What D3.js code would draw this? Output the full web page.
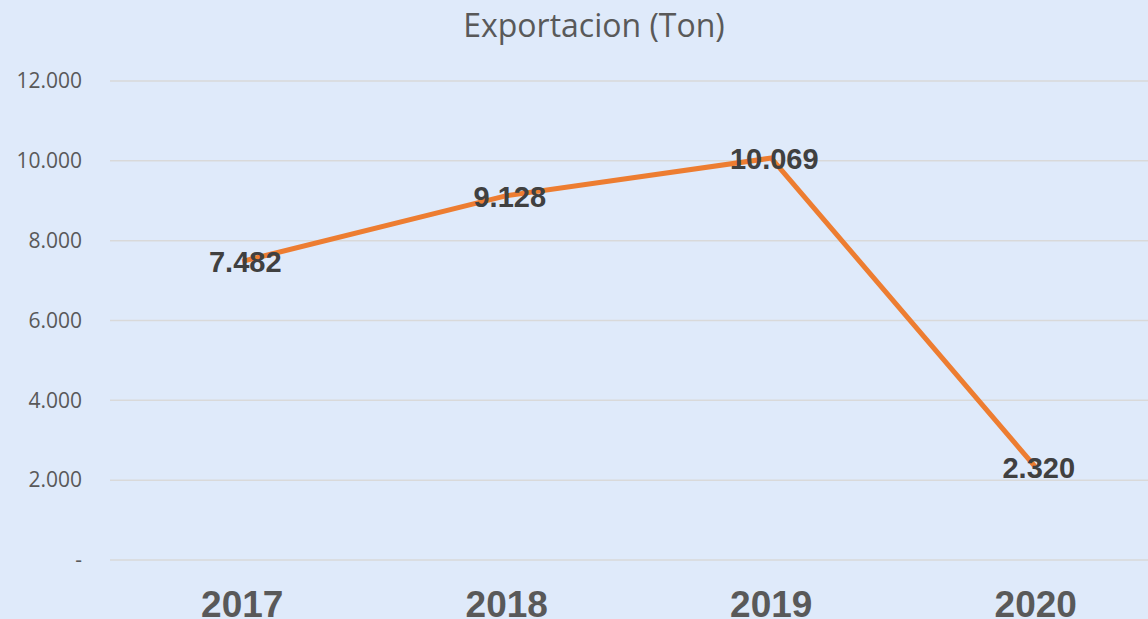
<!DOCTYPE html>
<html>
<head>
<meta charset="utf-8">
<script src="https://cdn.jsdelivr.net/npm/d3@7"></script>
<style>
    html, body { margin: 0; padding: 0; background: #dfeafa; }
    svg { display: block; }
</style>
</head>
<body>
<div id="chart"></div>
<script>
const years = ["2017", "2018", "2019", "2020"];
const exportTon = [7482, 9128, 10069, 2320];
const yTicks = [0, 2000, 4000, 6000, 8000, 10000, 12000];
const chartTitle = "Exportacion (Ton)";

const W = 1148, H = 619;

// thousands with a dot, zero shown as a dash
const fmt = v => v === 0 ? "-" : d3.format(",")(v).replace(/,/g, ".");

const svg = d3.select("#chart").append("svg")
    .attr("width", W)
    .attr("height", H)
    .style("background", "#dfeafa");

const x = d3.scaleBand()
    .domain(years)
    .range([110, 1168]);

const y = d3.scaleLinear()
    .domain([0, 12000])
    .range([560, 81]);

// gridlines
svg.append("g").selectAll("line")
    .data(yTicks)
    .enter()
    .append("line")
        .attr("x1", 110)
        .attr("x2", W)
        .attr("y1", d => y(d))
        .attr("y2", d => y(d))
        .style("stroke", "#d9d9d9")
        .style("stroke-width", 1.5);

// y axis labels
const yAxis = svg.append("g")
    .attr("transform", "translate(82,0)")
    .call(d3.axisLeft(y).tickValues(yTicks).tickFormat(fmt).tickSize(0).tickPadding(0));
yAxis.select(".domain").remove();
yAxis.selectAll("text")
    .style("font-family", "'Open Sans', sans-serif")
    .style("font-size", "21px")
    .style("fill", "#595959");

// x axis labels
const xAxis = svg.append("g")
    .attr("transform", "translate(0,560)")
    .call(d3.axisBottom(x).tickSize(0).tickPadding(0));
xAxis.select(".domain").remove();
xAxis.selectAll("text")
    .attr("dy", null)
    .attr("y", 57)
    .style("font-family", "'Liberation Sans', Arial, sans-serif")
    .style("font-weight", "bold")
    .style("font-size", "37px")
    .style("fill", "#595959");

// title
svg.append("text")
    .attr("x", 594)
    .attr("y", 37)
    .attr("text-anchor", "middle")
    .style("font-family", "'Open Sans', sans-serif")
    .style("font-size", "32px")
    .style("fill", "#595959")
    .text(chartTitle);

const pts = years.map((yr, i) => ({ yr, v: exportTon[i] }));

const line = d3.line()
    .x(d => x(d.yr) + x.bandwidth() / 2)
    .y(d => y(d.v));

svg.append("path")
    .datum(pts)
    .attr("d", line)
    .style("fill", "none")
    .style("stroke", "#ed7d31")
    .style("stroke-width", 5)
    .style("stroke-linejoin", "round");

// data labels
svg.append("g").selectAll("text")
    .data(pts)
    .enter()
    .append("text")
        .attr("x", d => x(d.yr) + x.bandwidth() / 2 + 3)
        .attr("y", d => y(d.v) + 11)
        .attr("text-anchor", "middle")
        .style("font-family", "'Liberation Sans', Arial, sans-serif")
        .style("font-weight", "bold")
        .style("font-size", "29px")
        .style("fill", "#404040")
        .text(d => fmt(d.v));
</script>
</body>
</html>
